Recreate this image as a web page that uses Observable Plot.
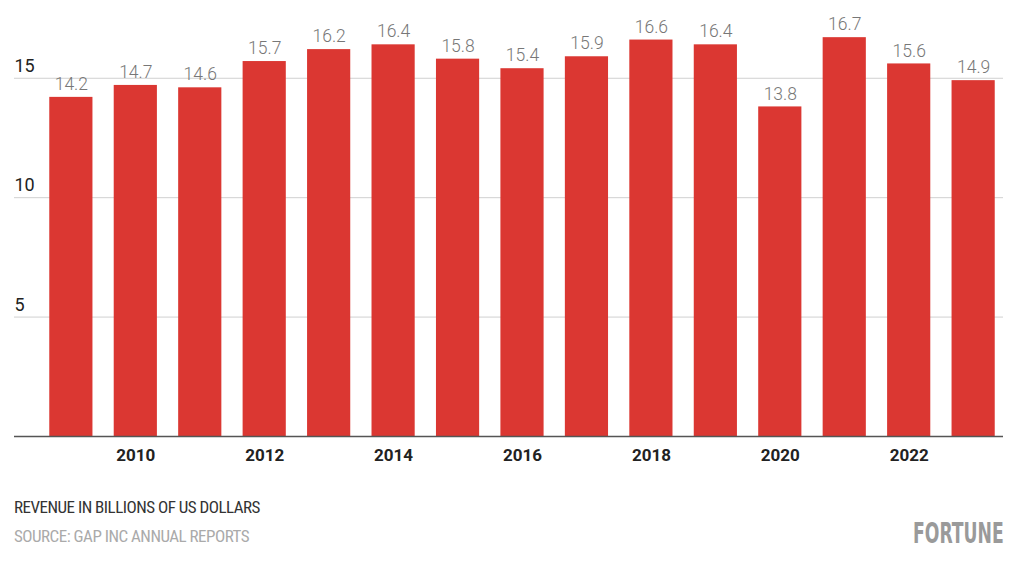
<!DOCTYPE html>
<html>
<head>
<meta charset="utf-8">
<script src="https://cdn.jsdelivr.net/npm/d3@7"></script>
<script src="https://cdn.jsdelivr.net/npm/@observablehq/plot@0.6"></script>
<style>
  html, body { margin: 0; padding: 0; background: #fff; }
  body { width: 1024px; height: 567px; position: relative; overflow: hidden; font-family: Roboto, sans-serif; }
  #chart { position: absolute; left: 0; top: 0; }
  .cap { position: absolute; left: 14px; font-size: 17px; line-height: 20px; white-space: nowrap; font-family: Roboto, sans-serif; font-stretch: 75%; letter-spacing: -0.5px; }
  #c1 { top: 497px; color: #333; }
  #c2 { top: 526px; color: #aaa; }
  #logo { position: absolute; left: 913px; top: 516px; font-family: "DejaVu Sans Condensed", sans-serif; font-weight: bold; font-size: 29px; color: #9a9a9a; transform-origin: left top; transform: scaleX(0.66); white-space: nowrap; }
</style>
</head>
<body>
<div id="chart"></div>
<div class="cap" id="c1">REVENUE IN BILLIONS OF US DOLLARS</div>
<div class="cap" id="c2">SOURCE: GAP INC ANNUAL REPORTS</div>
<div id="logo">FORTUNE</div>
<script>
const years = [2009, 2010, 2011, 2012, 2013, 2014, 2015, 2016, 2017, 2018, 2019, 2020, 2021, 2022, 2023];
const revenue = [14.2, 14.7, 14.6, 15.7, 16.2, 16.4, 15.8, 15.4, 15.9, 16.6, 16.4, 13.8, 16.7, 15.6, 14.9];
const yTicks = [5, 10, 15];
const xTickYears = [2010, 2012, 2014, 2016, 2018, 2020, 2022];

const data = years.map((y, i) => ({year: y, value: revenue[i]}));

const chart = Plot.plot({
  width: 1024,
  height: 475,
  marginLeft: 28,
  marginRight: 8,
  marginTop: 30,
  marginBottom: 39,
  style: {fontFamily: "Roboto, 'Noto Sans', sans-serif", background: "#fff"},
  x: {type: "band", domain: years, padding: 0.33, round: false, label: null, axis: null},
  y: {domain: [0, 17], label: null, axis: null},
  marks: [
    Plot.ruleY(yTicks, {stroke: "#d0d0d0", strokeWidth: 1, insetLeft: -14, insetRight: 13}),
    Plot.text(yTicks, {y: d => d, text: d => String(d), frameAnchor: "left", textAnchor: "start", dx: -14, dy: -12, fontSize: 18, fill: "#222", ariaLabel: "ytick"}),
    Plot.barY(data, {x: "year", y: "value", fill: "#db3732"}),
    Plot.text(data, {x: "year", y: "value", text: d => d.value.toFixed(1), dy: -13, fontSize: 17.5, fontWeight: 300, fill: "#777", ariaLabel: "vlabel"}),
    Plot.ruleY([0], {stroke: "#555", strokeWidth: 1.5, insetLeft: -14, insetRight: 13}),
    Plot.axisX({ticks: xTickYears, tickFormat: d => String(d), tickSize: 0, tickPadding: 12, fontSize: 17, fontWeight: "bold", fill: "#222", label: null, ariaLabel: "xtick"})
  ]
});
d3.select(chart).selectAll("g[aria-label=ytick], g[aria-label=vlabel]").style("font-stretch", "75%").style("letter-spacing", "-0.6px");
d3.select(chart).selectAll("g[aria-label=xtick]").style("font-stretch", "90%");
document.getElementById("chart").appendChild(chart);
</script>
</body>
</html>
